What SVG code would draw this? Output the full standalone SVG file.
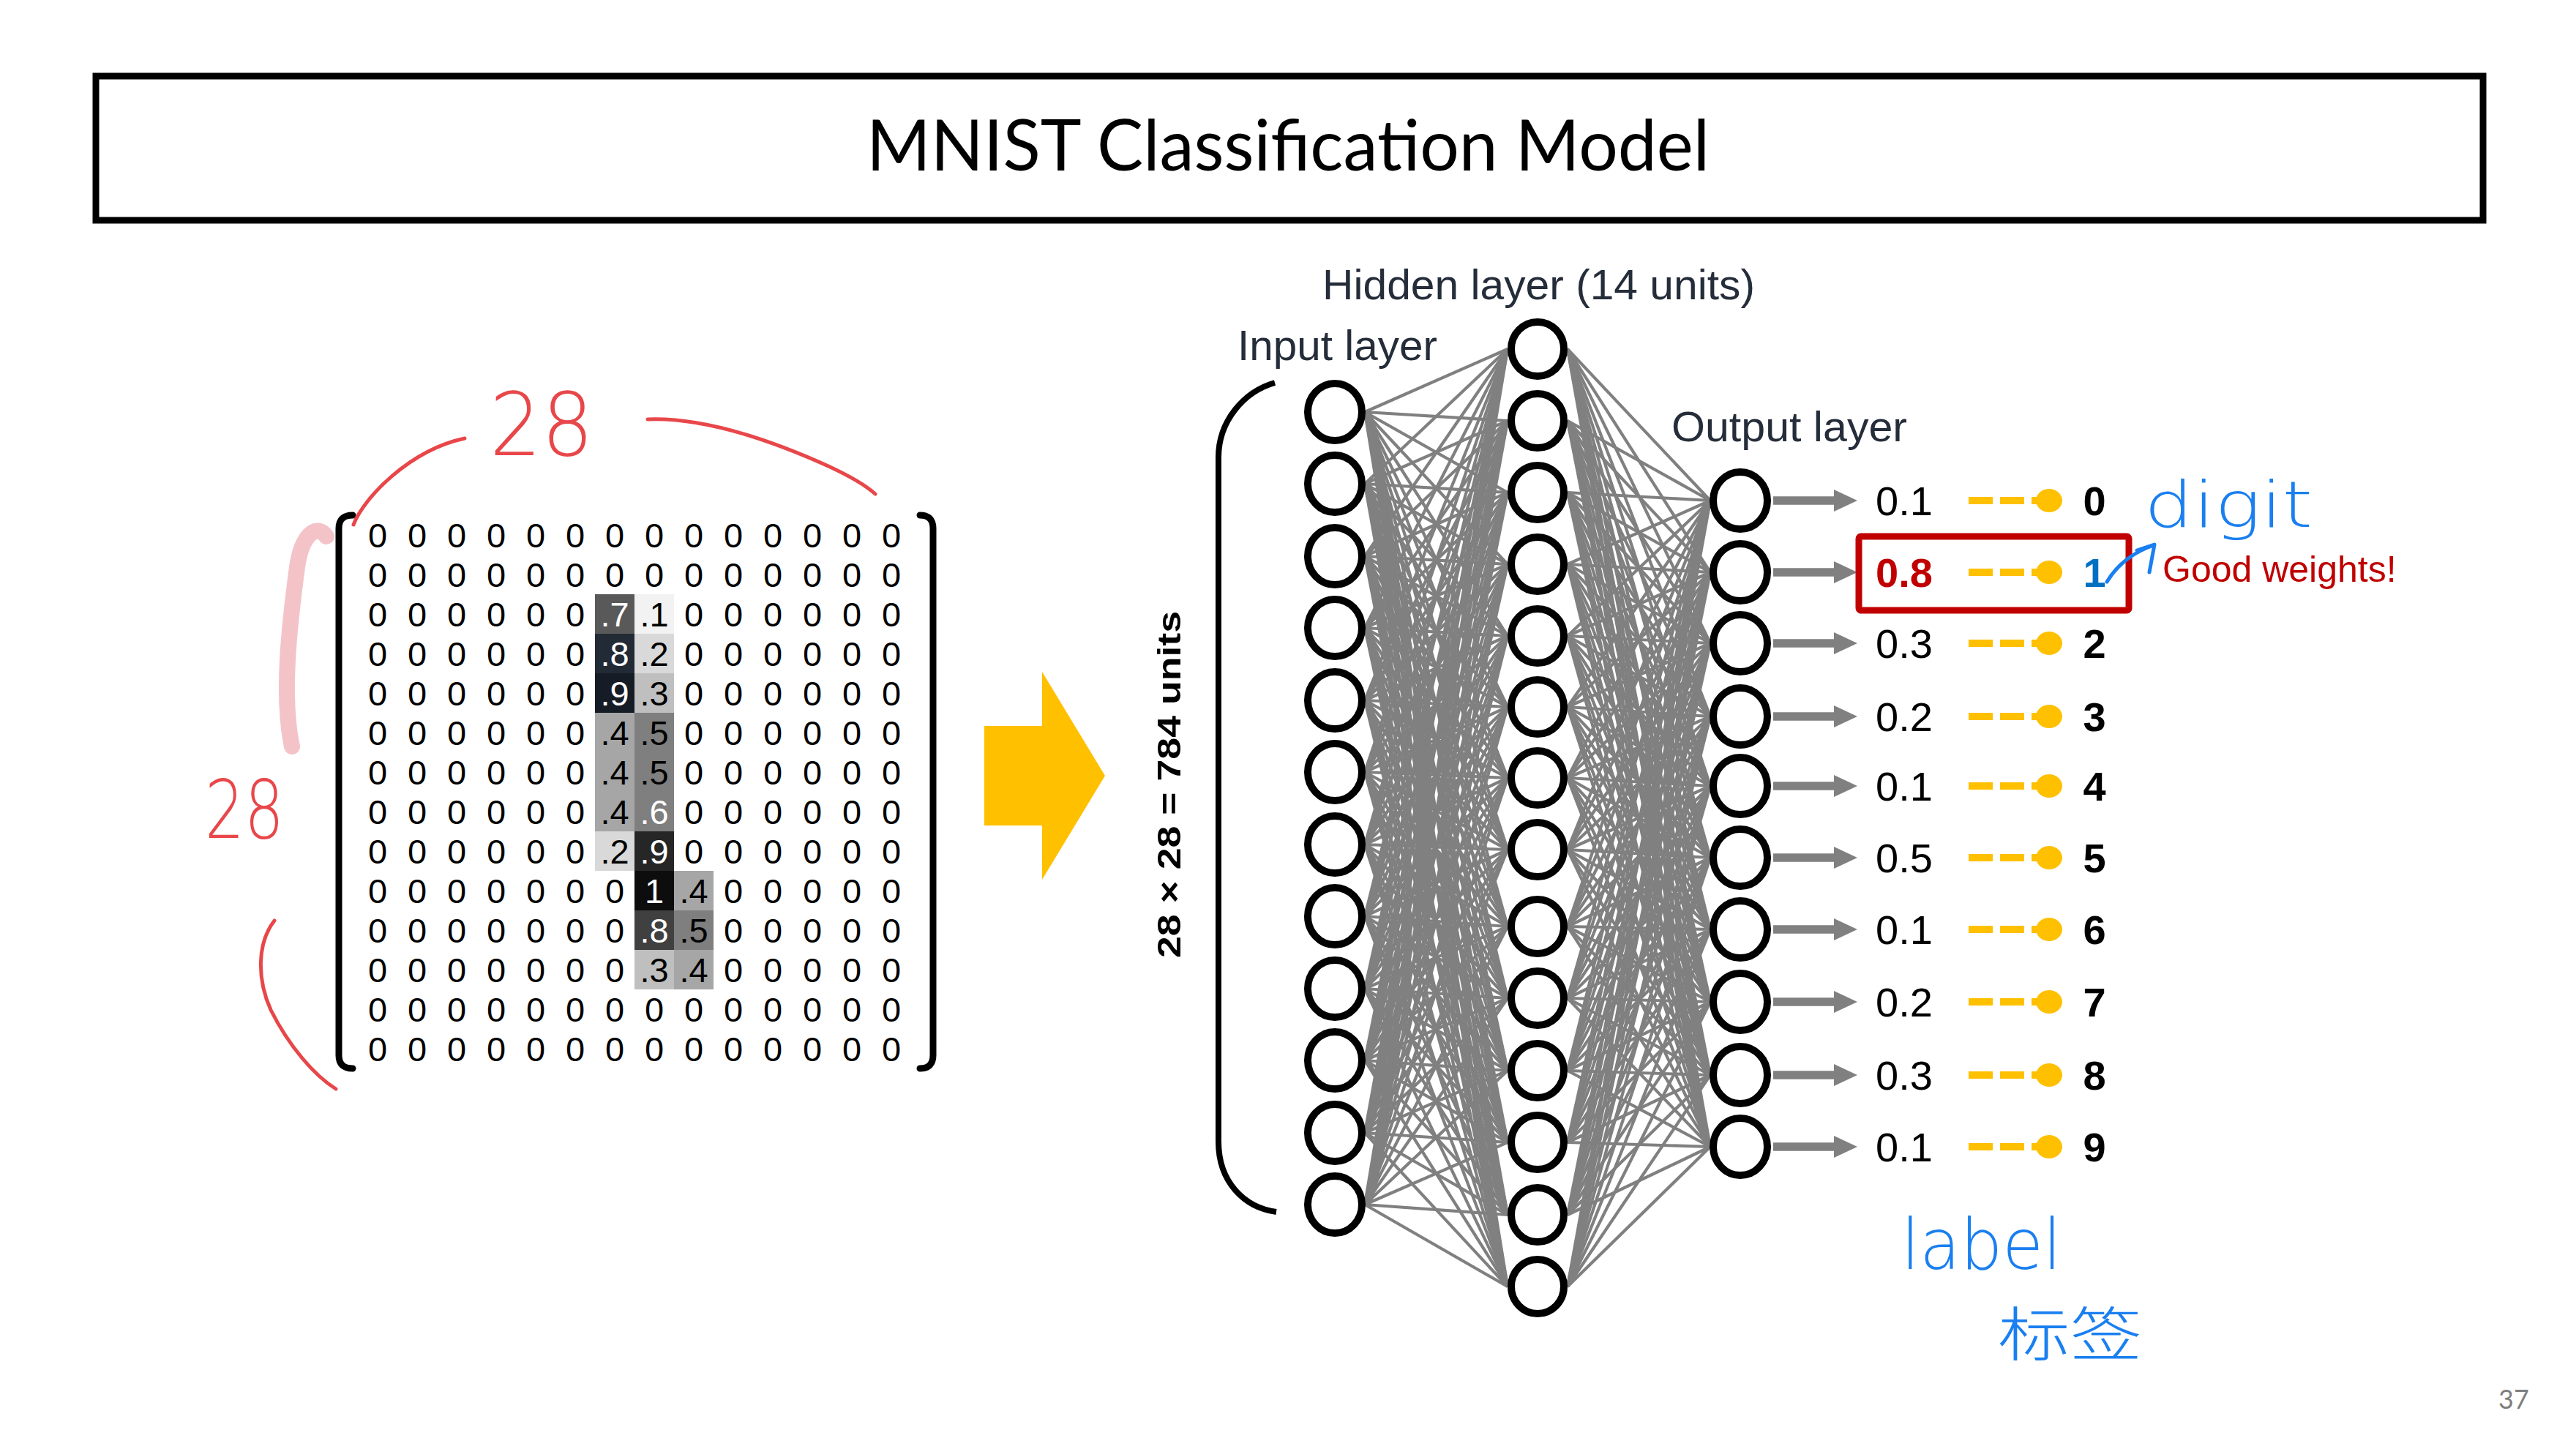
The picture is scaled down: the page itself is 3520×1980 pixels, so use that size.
<svg xmlns="http://www.w3.org/2000/svg" width="3520" height="1980" viewBox="0 0 3520 1980">
<style>
.node{fill:#fff;stroke:#000;stroke-width:10}
.conn{fill:none;stroke:#808080;stroke-width:4.2}
.mtx{font-family:"Liberation Sans",Arial,sans-serif;font-size:47px;text-anchor:middle;fill:#000}
.lbl{font-family:"Liberation Sans",Arial,sans-serif;font-size:57px;fill:#252d3a}
.val{font-family:"Liberation Sans",Arial,sans-serif;font-size:56px}
.dig{font-family:"Liberation Sans",Arial,sans-serif;font-size:56px;font-weight:bold;text-anchor:middle}
.arr{stroke:#808080;stroke-width:11.5}
.dash{stroke:#ffc000;stroke-width:10;stroke-dasharray:33 10}
.dot{fill:#ffc000;stroke:none}
.inkr{fill:none;stroke:#e8474a;stroke-width:5;stroke-linecap:round;stroke-linejoin:round}
.inkb{fill:none;stroke:#1a7ff0;stroke-width:5;stroke-linecap:round;stroke-linejoin:round}
.hand{font-family:"DejaVu Sans",sans-serif;font-weight:200}
.brk{fill:none;stroke:#000;stroke-width:9;stroke-linecap:round}
</style>
<defs>
<marker id="ah" markerUnits="userSpaceOnUse" markerWidth="34" markerHeight="32" refX="0" refY="16" orient="auto" viewBox="0 0 34 32"><path d="M0 1L32 16L0 31z" fill="#808080"/></marker>
</defs>
<rect width="3520" height="1980" fill="#fff"/>

<g id="title">
<rect x="131" y="104" width="3262" height="197" fill="none" stroke="#000" stroke-width="9"/>
<text x="1760" y="233" font-family="Lato,'Open Sans',sans-serif" font-size="96" text-anchor="middle" textLength="1152" lengthAdjust="spacingAndGlyphs">MNIST Classification Model</text>
</g>

<g id="matrix">
<g id="cells">
<rect x="813" y="812" width="54" height="54" fill="#595959"/>
<rect x="867" y="812" width="54" height="54" fill="#f2f2f2"/>
<rect x="813" y="866" width="54" height="54" fill="#222a35"/>
<rect x="867" y="866" width="54" height="54" fill="#d9d9d9"/>
<rect x="813" y="920" width="54" height="54" fill="#161c25"/>
<rect x="867" y="920" width="54" height="54" fill="#bfbfbf"/>
<rect x="813" y="974" width="54" height="54" fill="#a6a6a6"/>
<rect x="867" y="974" width="54" height="54" fill="#7f7f7f"/>
<rect x="813" y="1028" width="54" height="54" fill="#a6a6a6"/>
<rect x="867" y="1028" width="54" height="54" fill="#7f7f7f"/>
<rect x="813" y="1082" width="54" height="54" fill="#a6a6a6"/>
<rect x="867" y="1082" width="54" height="54" fill="#7f7f7f"/>
<rect x="813" y="1136" width="54" height="54" fill="#d9d9d9"/>
<rect x="867" y="1136" width="54" height="54" fill="#262626"/>
<rect x="867" y="1190" width="54" height="54" fill="#0d0d0d"/>
<rect x="921" y="1190" width="54" height="54" fill="#a6a6a6"/>
<rect x="867" y="1244" width="54" height="54" fill="#404040"/>
<rect x="921" y="1244" width="54" height="54" fill="#7f7f7f"/>
<rect x="867" y="1298" width="54" height="54" fill="#bfbfbf"/>
<rect x="921" y="1298" width="54" height="54" fill="#a6a6a6"/>
</g>
<g class="mtx">
<text x="516 570 624 678 732 786 840 894 948 1002 1056 1110 1164 1218" y="748">00000000000000</text>
<text x="516 570 624 678 732 786 840 894 948 1002 1056 1110 1164 1218" y="802">00000000000000</text>
<text x="516 570 624 678 732 786" y="856">000000</text>
<text x="948 1002 1056 1110 1164 1218" y="856">000000</text>
<text x="516 570 624 678 732 786" y="910">000000</text>
<text x="948 1002 1056 1110 1164 1218" y="910">000000</text>
<text x="516 570 624 678 732 786" y="964">000000</text>
<text x="948 1002 1056 1110 1164 1218" y="964">000000</text>
<text x="516 570 624 678 732 786" y="1018">000000</text>
<text x="948 1002 1056 1110 1164 1218" y="1018">000000</text>
<text x="516 570 624 678 732 786" y="1072">000000</text>
<text x="948 1002 1056 1110 1164 1218" y="1072">000000</text>
<text x="516 570 624 678 732 786" y="1126">000000</text>
<text x="948 1002 1056 1110 1164 1218" y="1126">000000</text>
<text x="516 570 624 678 732 786" y="1180">000000</text>
<text x="948 1002 1056 1110 1164 1218" y="1180">000000</text>
<text x="516 570 624 678 732 786 840" y="1234">0000000</text>
<text x="1002 1056 1110 1164 1218" y="1234">00000</text>
<text x="516 570 624 678 732 786 840" y="1288">0000000</text>
<text x="1002 1056 1110 1164 1218" y="1288">00000</text>
<text x="516 570 624 678 732 786 840" y="1342">0000000</text>
<text x="1002 1056 1110 1164 1218" y="1342">00000</text>
<text x="516 570 624 678 732 786 840 894 948 1002 1056 1110 1164 1218" y="1396">00000000000000</text>
<text x="516 570 624 678 732 786 840 894 948 1002 1056 1110 1164 1218" y="1450">00000000000000</text>
<text x="840" y="856" fill="#fff">.7</text>
<text x="894" y="856">.1</text>
<text x="840" y="910" fill="#fff">.8</text>
<text x="894" y="910">.2</text>
<text x="840" y="964" fill="#fff">.9</text>
<text x="894" y="964">.3</text>
<text x="840" y="1018">.4</text>
<text x="894" y="1018">.5</text>
<text x="840" y="1072">.4</text>
<text x="894" y="1072">.5</text>
<text x="840" y="1126">.4</text>
<text x="894" y="1126" fill="#fff">.6</text>
<text x="840" y="1180">.2</text>
<text x="894" y="1180" fill="#fff">.9</text>
<text x="894" y="1234" fill="#fff">1</text>
<text x="948" y="1234">.4</text>
<text x="894" y="1288" fill="#fff">.8</text>
<text x="948" y="1288">.5</text>
<text x="894" y="1342">.3</text>
<text x="948" y="1342">.4</text>
</g>
<path class="brk" d="M482 704Q463 704 463 722L463 1442Q463 1460 482 1460"/>
<path class="brk" d="M1257 704Q1275 704 1275 722L1275 1442Q1275 1460 1257 1460"/>
</g>

<g id="annotations-red">
<path d="M446 733C432 714 412 732 406 775C396 850 384 950 399 1020" fill="none" stroke="#f4c3c8" stroke-width="22" stroke-linecap="round"/>
<path class="inkr" d="M483 717C497 680 560 615 635 599"/>
<path class="inkr" d="M885 573C960 570 1050 600 1132 637C1160 650 1185 665 1196 675"/>
<path class="inkr" d="M375 1258C350 1290 352 1340 370 1380C395 1430 430 1470 459 1488"/>
<text class="hand" x="669" y="622" font-size="120" fill="#e8474a" textLength="142" lengthAdjust="spacingAndGlyphs">28</text>
<text class="hand" x="280" y="1145" font-size="110" fill="#e8474a" textLength="108" lengthAdjust="spacingAndGlyphs">28</text>
</g>

<g id="big-arrow">
<polygon points="1345,992 1424,992 1424,918 1510,1060 1424,1202 1424,1128 1345,1128" fill="#ffc000"/>
</g>

<g id="input-brace">
<path d="M1742 523C1700 535 1665 575 1665 625L1665 1560C1665 1615 1700 1650 1744 1656" fill="none" stroke="#000" stroke-width="8"/>
<text x="1613" y="1072" transform="rotate(-90 1613 1072)" font-family="'Liberation Sans',Arial,sans-serif" font-weight="bold" font-size="45" text-anchor="middle" textLength="474" lengthAdjust="spacingAndGlyphs">28 × 28 = 784 units</text>
</g>

<g id="layer-labels">
<text class="lbl" x="1807" y="409" textLength="591" lengthAdjust="spacingAndGlyphs">Hidden layer (14 units)</text>
<text class="lbl" x="1691" y="492" textLength="273" lengthAdjust="spacingAndGlyphs">Input layer</text>
<text class="lbl" x="2284" y="603" textLength="322" lengthAdjust="spacingAndGlyphs">Output layer</text>
</g>

<g id="connectors">
<g class="conn">
<path d="M1865 563L2060 477M1865 563L2060 575M1865 563L2060 673M1865 563L2060 771M1865 563L2060 869M1865 563L2060 966M1865 563L2060 1063M1865 563L2060 1161M1865 563L2060 1266M1865 563L2060 1364M1865 563L2060 1463M1865 563L2060 1561M1865 563L2060 1660M1865 563L2060 1758"/>
<path d="M1865 661L2060 477M1865 661L2060 575M1865 661L2060 673M1865 661L2060 771M1865 661L2060 869M1865 661L2060 966M1865 661L2060 1063M1865 661L2060 1161M1865 661L2060 1266M1865 661L2060 1364M1865 661L2060 1463M1865 661L2060 1561M1865 661L2060 1660M1865 661L2060 1758"/>
<path d="M1865 760L2060 477M1865 760L2060 575M1865 760L2060 673M1865 760L2060 771M1865 760L2060 869M1865 760L2060 966M1865 760L2060 1063M1865 760L2060 1161M1865 760L2060 1266M1865 760L2060 1364M1865 760L2060 1463M1865 760L2060 1561M1865 760L2060 1660M1865 760L2060 1758"/>
<path d="M1865 858L2060 477M1865 858L2060 575M1865 858L2060 673M1865 858L2060 771M1865 858L2060 869M1865 858L2060 966M1865 858L2060 1063M1865 858L2060 1161M1865 858L2060 1266M1865 858L2060 1364M1865 858L2060 1463M1865 858L2060 1561M1865 858L2060 1660M1865 858L2060 1758"/>
<path d="M1865 957L2060 477M1865 957L2060 575M1865 957L2060 673M1865 957L2060 771M1865 957L2060 869M1865 957L2060 966M1865 957L2060 1063M1865 957L2060 1161M1865 957L2060 1266M1865 957L2060 1364M1865 957L2060 1463M1865 957L2060 1561M1865 957L2060 1660M1865 957L2060 1758"/>
<path d="M1865 1055L2060 477M1865 1055L2060 575M1865 1055L2060 673M1865 1055L2060 771M1865 1055L2060 869M1865 1055L2060 966M1865 1055L2060 1063M1865 1055L2060 1161M1865 1055L2060 1266M1865 1055L2060 1364M1865 1055L2060 1463M1865 1055L2060 1561M1865 1055L2060 1660M1865 1055L2060 1758"/>
<path d="M1865 1154L2060 477M1865 1154L2060 575M1865 1154L2060 673M1865 1154L2060 771M1865 1154L2060 869M1865 1154L2060 966M1865 1154L2060 1063M1865 1154L2060 1161M1865 1154L2060 1266M1865 1154L2060 1364M1865 1154L2060 1463M1865 1154L2060 1561M1865 1154L2060 1660M1865 1154L2060 1758"/>
<path d="M1865 1252L2060 477M1865 1252L2060 575M1865 1252L2060 673M1865 1252L2060 771M1865 1252L2060 869M1865 1252L2060 966M1865 1252L2060 1063M1865 1252L2060 1161M1865 1252L2060 1266M1865 1252L2060 1364M1865 1252L2060 1463M1865 1252L2060 1561M1865 1252L2060 1660M1865 1252L2060 1758"/>
<path d="M1865 1351L2060 477M1865 1351L2060 575M1865 1351L2060 673M1865 1351L2060 771M1865 1351L2060 869M1865 1351L2060 966M1865 1351L2060 1063M1865 1351L2060 1161M1865 1351L2060 1266M1865 1351L2060 1364M1865 1351L2060 1463M1865 1351L2060 1561M1865 1351L2060 1660M1865 1351L2060 1758"/>
<path d="M1865 1449L2060 477M1865 1449L2060 575M1865 1449L2060 673M1865 1449L2060 771M1865 1449L2060 869M1865 1449L2060 966M1865 1449L2060 1063M1865 1449L2060 1161M1865 1449L2060 1266M1865 1449L2060 1364M1865 1449L2060 1463M1865 1449L2060 1561M1865 1449L2060 1660M1865 1449L2060 1758"/>
<path d="M1865 1548L2060 477M1865 1548L2060 575M1865 1548L2060 673M1865 1548L2060 771M1865 1548L2060 869M1865 1548L2060 966M1865 1548L2060 1063M1865 1548L2060 1161M1865 1548L2060 1266M1865 1548L2060 1364M1865 1548L2060 1463M1865 1548L2060 1561M1865 1548L2060 1660M1865 1548L2060 1758"/>
<path d="M1865 1646L2060 477M1865 1646L2060 575M1865 1646L2060 673M1865 1646L2060 771M1865 1646L2060 869M1865 1646L2060 966M1865 1646L2060 1063M1865 1646L2060 1161M1865 1646L2060 1266M1865 1646L2060 1364M1865 1646L2060 1463M1865 1646L2060 1561M1865 1646L2060 1660M1865 1646L2060 1758"/>
<path d="M2337 684L2142 477M2337 684L2142 575M2337 684L2142 673M2337 684L2142 771M2337 684L2142 869M2337 684L2142 966M2337 684L2142 1063M2337 684L2142 1161M2337 684L2142 1266M2337 684L2142 1364M2337 684L2142 1463M2337 684L2142 1561M2337 684L2142 1660M2337 684L2142 1758"/>
<path d="M2337 782L2142 477M2337 782L2142 575M2337 782L2142 673M2337 782L2142 771M2337 782L2142 869M2337 782L2142 966M2337 782L2142 1063M2337 782L2142 1161M2337 782L2142 1266M2337 782L2142 1364M2337 782L2142 1463M2337 782L2142 1561M2337 782L2142 1660M2337 782L2142 1758"/>
<path d="M2337 879L2142 477M2337 879L2142 575M2337 879L2142 673M2337 879L2142 771M2337 879L2142 869M2337 879L2142 966M2337 879L2142 1063M2337 879L2142 1161M2337 879L2142 1266M2337 879L2142 1364M2337 879L2142 1463M2337 879L2142 1561M2337 879L2142 1660M2337 879L2142 1758"/>
<path d="M2337 979L2142 477M2337 979L2142 575M2337 979L2142 673M2337 979L2142 771M2337 979L2142 869M2337 979L2142 966M2337 979L2142 1063M2337 979L2142 1161M2337 979L2142 1266M2337 979L2142 1364M2337 979L2142 1463M2337 979L2142 1561M2337 979L2142 1660M2337 979L2142 1758"/>
<path d="M2337 1074L2142 477M2337 1074L2142 575M2337 1074L2142 673M2337 1074L2142 771M2337 1074L2142 869M2337 1074L2142 966M2337 1074L2142 1063M2337 1074L2142 1161M2337 1074L2142 1266M2337 1074L2142 1364M2337 1074L2142 1463M2337 1074L2142 1561M2337 1074L2142 1660M2337 1074L2142 1758"/>
<path d="M2337 1172L2142 477M2337 1172L2142 575M2337 1172L2142 673M2337 1172L2142 771M2337 1172L2142 869M2337 1172L2142 966M2337 1172L2142 1063M2337 1172L2142 1161M2337 1172L2142 1266M2337 1172L2142 1364M2337 1172L2142 1463M2337 1172L2142 1561M2337 1172L2142 1660M2337 1172L2142 1758"/>
<path d="M2337 1270L2142 477M2337 1270L2142 575M2337 1270L2142 673M2337 1270L2142 771M2337 1270L2142 869M2337 1270L2142 966M2337 1270L2142 1063M2337 1270L2142 1161M2337 1270L2142 1266M2337 1270L2142 1364M2337 1270L2142 1463M2337 1270L2142 1561M2337 1270L2142 1660M2337 1270L2142 1758"/>
<path d="M2337 1369L2142 477M2337 1369L2142 575M2337 1369L2142 673M2337 1369L2142 771M2337 1369L2142 869M2337 1369L2142 966M2337 1369L2142 1063M2337 1369L2142 1161M2337 1369L2142 1266M2337 1369L2142 1364M2337 1369L2142 1463M2337 1369L2142 1561M2337 1369L2142 1660M2337 1369L2142 1758"/>
<path d="M2337 1469L2142 477M2337 1469L2142 575M2337 1469L2142 673M2337 1469L2142 771M2337 1469L2142 869M2337 1469L2142 966M2337 1469L2142 1063M2337 1469L2142 1161M2337 1469L2142 1266M2337 1469L2142 1364M2337 1469L2142 1463M2337 1469L2142 1561M2337 1469L2142 1660M2337 1469L2142 1758"/>
<path d="M2337 1567L2142 477M2337 1567L2142 575M2337 1567L2142 673M2337 1567L2142 771M2337 1567L2142 869M2337 1567L2142 966M2337 1567L2142 1063M2337 1567L2142 1161M2337 1567L2142 1266M2337 1567L2142 1364M2337 1567L2142 1463M2337 1567L2142 1561M2337 1567L2142 1660M2337 1567L2142 1758"/>
</g>
<g id="output-arrows" class="arr" marker-end="url(#ah)">
<line x1="2423" y1="684" x2="2506" y2="684"/>
<line x1="2423" y1="782" x2="2506" y2="782"/>
<line x1="2423" y1="879" x2="2506" y2="879"/>
<line x1="2423" y1="979" x2="2506" y2="979"/>
<line x1="2423" y1="1074" x2="2506" y2="1074"/>
<line x1="2423" y1="1172" x2="2506" y2="1172"/>
<line x1="2423" y1="1270" x2="2506" y2="1270"/>
<line x1="2423" y1="1369" x2="2506" y2="1369"/>
<line x1="2423" y1="1469" x2="2506" y2="1469"/>
<line x1="2423" y1="1567" x2="2506" y2="1567"/>
</g>
<g id="label-links" class="dash">
<line x1="2690" y1="684" x2="2792" y2="684"/>
<line x1="2690" y1="782" x2="2792" y2="782"/>
<line x1="2690" y1="879" x2="2792" y2="879"/>
<line x1="2690" y1="979" x2="2792" y2="979"/>
<line x1="2690" y1="1074" x2="2792" y2="1074"/>
<line x1="2690" y1="1172" x2="2792" y2="1172"/>
<line x1="2690" y1="1270" x2="2792" y2="1270"/>
<line x1="2690" y1="1369" x2="2792" y2="1369"/>
<line x1="2690" y1="1469" x2="2792" y2="1469"/>
<line x1="2690" y1="1567" x2="2792" y2="1567"/>
</g>
<g class="dot">
<ellipse cx="2800" cy="684" rx="18" ry="16"/>
<ellipse cx="2800" cy="782" rx="18" ry="16"/>
<ellipse cx="2800" cy="879" rx="18" ry="16"/>
<ellipse cx="2800" cy="979" rx="18" ry="16"/>
<ellipse cx="2800" cy="1074" rx="18" ry="16"/>
<ellipse cx="2800" cy="1172" rx="18" ry="16"/>
<ellipse cx="2800" cy="1270" rx="18" ry="16"/>
<ellipse cx="2800" cy="1369" rx="18" ry="16"/>
<ellipse cx="2800" cy="1469" rx="18" ry="16"/>
<ellipse cx="2800" cy="1567" rx="18" ry="16"/>
</g>
</g>

<g id="input-layer">
<g id="in-1"><ellipse class="node" cx="1824" cy="563" rx="37" ry="39"/></g>
<g id="in-2"><ellipse class="node" cx="1824" cy="661" rx="37" ry="39"/></g>
<g id="in-3"><ellipse class="node" cx="1824" cy="760" rx="37" ry="39"/></g>
<g id="in-4"><ellipse class="node" cx="1824" cy="858" rx="37" ry="39"/></g>
<g id="in-5"><ellipse class="node" cx="1824" cy="957" rx="37" ry="39"/></g>
<g id="in-6"><ellipse class="node" cx="1824" cy="1055" rx="37" ry="39"/></g>
<g id="in-7"><ellipse class="node" cx="1824" cy="1154" rx="37" ry="39"/></g>
<g id="in-8"><ellipse class="node" cx="1824" cy="1252" rx="37" ry="39"/></g>
<g id="in-9"><ellipse class="node" cx="1824" cy="1351" rx="37" ry="39"/></g>
<g id="in-10"><ellipse class="node" cx="1824" cy="1449" rx="37" ry="39"/></g>
<g id="in-11"><ellipse class="node" cx="1824" cy="1548" rx="37" ry="39"/></g>
<g id="in-12"><ellipse class="node" cx="1824" cy="1646" rx="37" ry="39"/></g>
</g>
<g id="hidden-layer">
<g id="hid-1"><ellipse class="node" cx="2101" cy="477" rx="36" ry="37"/></g>
<g id="hid-2"><ellipse class="node" cx="2101" cy="575" rx="36" ry="37"/></g>
<g id="hid-3"><ellipse class="node" cx="2101" cy="673" rx="36" ry="37"/></g>
<g id="hid-4"><ellipse class="node" cx="2101" cy="771" rx="36" ry="37"/></g>
<g id="hid-5"><ellipse class="node" cx="2101" cy="869" rx="36" ry="37"/></g>
<g id="hid-6"><ellipse class="node" cx="2101" cy="966" rx="36" ry="37"/></g>
<g id="hid-7"><ellipse class="node" cx="2101" cy="1063" rx="36" ry="37"/></g>
<g id="hid-8"><ellipse class="node" cx="2101" cy="1161" rx="36" ry="37"/></g>
<g id="hid-9"><ellipse class="node" cx="2101" cy="1266" rx="36" ry="37"/></g>
<g id="hid-10"><ellipse class="node" cx="2101" cy="1364" rx="36" ry="37"/></g>
<g id="hid-11"><ellipse class="node" cx="2101" cy="1463" rx="36" ry="37"/></g>
<g id="hid-12"><ellipse class="node" cx="2101" cy="1561" rx="36" ry="37"/></g>
<g id="hid-13"><ellipse class="node" cx="2101" cy="1660" rx="36" ry="37"/></g>
<g id="hid-14"><ellipse class="node" cx="2101" cy="1758" rx="36" ry="37"/></g>
</g>
<g id="output-layer">
<g id="out-0"><ellipse class="node" cx="2378" cy="684" rx="37" ry="39"/></g>
<g id="out-1"><ellipse class="node" cx="2378" cy="782" rx="37" ry="39"/></g>
<g id="out-2"><ellipse class="node" cx="2378" cy="879" rx="37" ry="39"/></g>
<g id="out-3"><ellipse class="node" cx="2378" cy="979" rx="37" ry="39"/></g>
<g id="out-4"><ellipse class="node" cx="2378" cy="1074" rx="37" ry="39"/></g>
<g id="out-5"><ellipse class="node" cx="2378" cy="1172" rx="37" ry="39"/></g>
<g id="out-6"><ellipse class="node" cx="2378" cy="1270" rx="37" ry="39"/></g>
<g id="out-7"><ellipse class="node" cx="2378" cy="1369" rx="37" ry="39"/></g>
<g id="out-8"><ellipse class="node" cx="2378" cy="1469" rx="37" ry="39"/></g>
<g id="out-9"><ellipse class="node" cx="2378" cy="1567" rx="37" ry="39"/></g>
</g>

<g id="probabilities">
<text class="val" x="2563" y="704">0.1</text>
<text class="val" x="2563" y="802" style="font-weight:bold;fill:#c00000">0.8</text>
<text class="val" x="2563" y="899">0.3</text>
<text class="val" x="2563" y="999">0.2</text>
<text class="val" x="2563" y="1094">0.1</text>
<text class="val" x="2563" y="1192">0.5</text>
<text class="val" x="2563" y="1290">0.1</text>
<text class="val" x="2563" y="1389">0.2</text>
<text class="val" x="2563" y="1489">0.3</text>
<text class="val" x="2563" y="1587">0.1</text>
</g>
<g id="digit-labels">
<text class="dig" x="2862" y="704">0</text>
<text class="dig" x="2862" y="802" style="fill:#0070c0">1</text>
<text class="dig" x="2862" y="899">2</text>
<text class="dig" x="2862" y="999">3</text>
<text class="dig" x="2862" y="1094">4</text>
<text class="dig" x="2862" y="1192">5</text>
<text class="dig" x="2862" y="1290">6</text>
<text class="dig" x="2862" y="1389">7</text>
<text class="dig" x="2862" y="1489">8</text>
<text class="dig" x="2862" y="1587">9</text>
</g>
<g id="highlight">
<rect x="2540" y="733" width="369" height="101" rx="3" fill="none" stroke="#c00000" stroke-width="9"/>
<text x="2955" y="795" font-family="'Liberation Sans',Arial,sans-serif" font-size="50" fill="#c00000">Good weights!</text>
</g>

<g id="annotations-blue">
<path class="inkb" d="M2879 795Q2900 760 2943 745M2920 752L2944 744L2937 782"/>
<text class="hand" x="2930" y="720" font-size="88" fill="#1a7ff0" textLength="230" lengthAdjust="spacingAndGlyphs">digit</text>
<text class="hand" x="2598" y="1734" font-size="96" fill="#1a7ff0" textLength="219" lengthAdjust="spacingAndGlyphs">label</text>
<text x="2730" y="1852" font-family="'Noto Sans CJK SC',sans-serif" font-weight="300" font-size="80" fill="#1a7ff0" textLength="197" lengthAdjust="spacingAndGlyphs">标签</text>
</g>

<text id="page-number" x="3435" y="1925" font-family="Lato,sans-serif" font-size="36" fill="#7f7f7f" text-anchor="middle">37</text>
</svg>
